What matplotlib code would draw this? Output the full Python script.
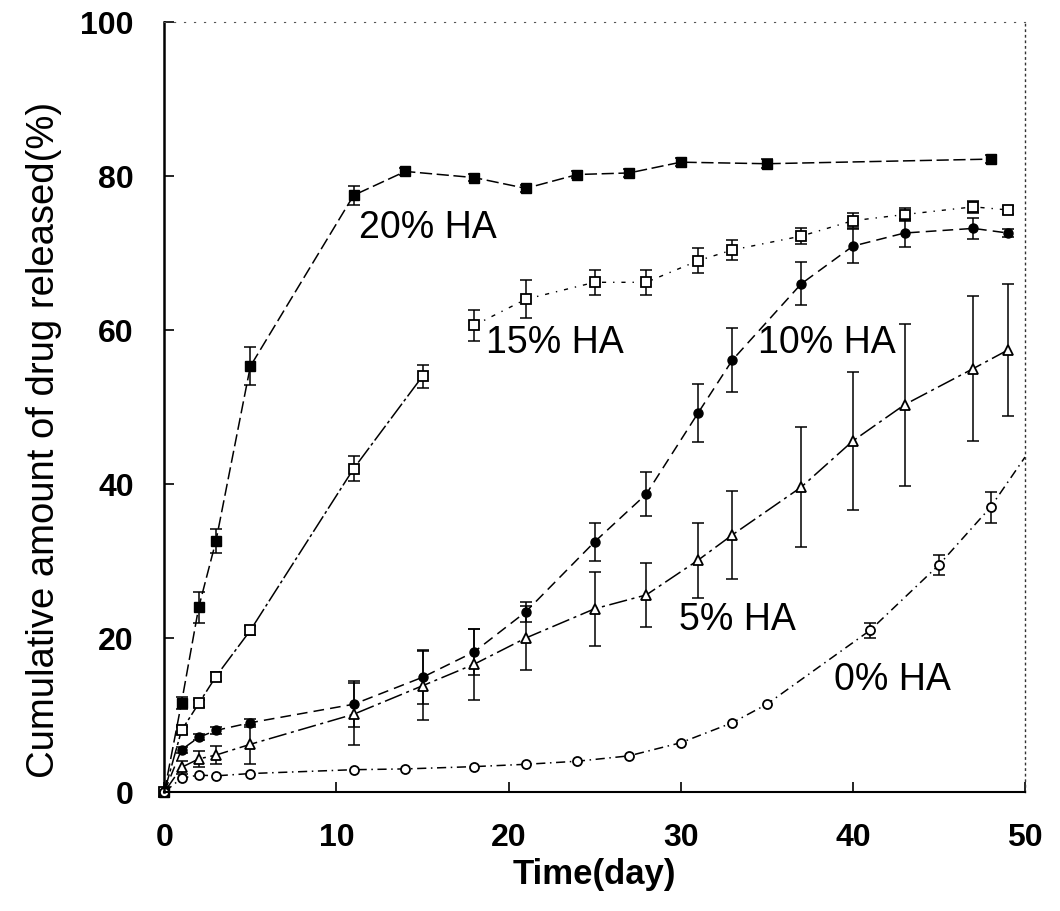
# импорт библиотек
import matplotlib
matplotlib.use("Agg")
import matplotlib.pyplot as plt

plt.rcParams['font.family'] = ['Liberation Sans', 'DejaVu Sans']

# данные: время (сутки) и накопленный выброс (%)
t20 = [0, 1, 2, 3, 5, 11, 14, 18, 21, 24, 27, 30, 35, 48]
r20 = [0, 11.6, 24, 32.6, 55.3, 77.5, 80.6, 79.8, 78.4, 80.2, 80.4, 81.8, 81.6, 82.2]
e20 = [0, 0.8, 2, 1.5, 2.5, 1.2, 0.5, 0.5, 0.5, 0.5, 0.5, 0.5, 0.6, 0.5]

t15 = [0, 1, 2, 3, 5, 11, 15, 18, 21, 25, 28, 31, 33, 37, 40, 43, 47, 49]
r15 = [0, 8, 11.5, 15, 21, 42, 54, 60.6, 64, 66.2, 66.2, 69, 70.4, 72.2, 74.2, 75, 76, 75.6]
e15 = [0, 0.5, 0.5, 0.6, 0.6, 1.6, 1.5, 2, 2.5, 1.6, 1.6, 1.6, 1.3, 1, 1, 0.8, 0.8, 0.5]

t10 = [0, 1, 2, 3, 5, 11, 15, 18, 21, 25, 28, 31, 33, 37, 40, 43, 47, 49]
r10 = [0, 5.5, 7.1, 8, 9, 11.4, 14.9, 18.2, 23.4, 32.5, 38.7, 49.2, 56.1, 66, 70.9, 72.6, 73.2, 72.6]
e10 = [0, 0.4, 0.4, 0.4, 0.5, 3, 3.5, 3, 1.3, 2.5, 2.8, 3.8, 4.2, 2.8, 2.2, 1.8, 1.4, 0.5]

t5 = [0, 1, 2, 3, 5, 11, 15, 18, 21, 25, 28, 31, 33, 37, 40, 43, 47, 49]
r5 = [0, 3.2, 4.3, 4.8, 6.2, 10.1, 13.8, 16.6, 20, 23.8, 25.6, 30.1, 33.4, 39.6, 45.6, 50.3, 55, 57.4]
e5 = [0, 0.8, 1, 1.2, 2.5, 4, 4.5, 4.6, 4.2, 4.8, 4.2, 4.9, 5.7, 7.8, 9, 10.5, 9.4, 8.6]

t0 = [0, 1, 2, 3, 5, 11, 14, 18, 21, 24, 27, 30, 33, 35, 41, 45, 48, 50]
r0 = [0, 1.8, 2.2, 2.1, 2.4, 2.9, 3.0, 3.3, 3.6, 4.0, 4.7, 6.4, 9.0, 11.4, 21, 29.5, 37, 43.5]
e0 = [0, 0, 0, 0, 0, 0, 0, 0, 0, 0, 0, 0, 0, 0, 1, 1.3, 2, 0]

labels = ["20% HA", "15% HA", "10% HA", "5% HA", "0% HA"]
label_pos = [(11.3, 73.2), (18.7, 58.3), (34.5, 58.3), (29.9, 22.3), (38.9, 14.5)]

fig = plt.figure(figsize=(10.6, 9.11), dpi=100)
ax = fig.add_axes([0.155, 0.1306, 0.812, 0.8452])


# усы погрешностей только там, где они есть
def err(t, r, e):
    tt = [a for a, c in zip(t, e) if c > 0]
    rr = [b for b, c in zip(r, e) if c > 0]
    ee = [c for c in e if c > 0]
    ax.errorbar(tt, rr, yerr=ee, fmt='none', ecolor='black', elinewidth=1.1,
                capsize=4, capthick=1.1, clip_on=False)


# 20% HA - закрашенные квадраты
err(t20, r20, e20)
ax.plot(t20, r20, color='black', lw=1.1, ls=(0, (8, 3)), marker='s', ms=7,
        mfc='black', mec='black', clip_on=False)

# 15% HA - пустые квадраты, разрыв у подписи
err(t15, r15, e15)
ax.plot(t15[:7], r15[:7], color='black', lw=1.1, ls=(0, (12, 2, 2, 2)), marker='s', ms=7,
        mfc='white', mec='black', mew=1.3, clip_on=False)
ax.plot(t15[7:], r15[7:], color='black', lw=1.0, ls=(0, (3, 5, 1, 5)), marker='s', ms=7,
        mfc='white', mec='black', mew=1.3, clip_on=False)

# 10% HA - закрашенные круги
err(t10, r10, e10)
ax.plot(t10, r10, color='black', lw=1.1, ls=(0, (7, 4)), marker='o', ms=6.5,
        mfc='black', mec='black', clip_on=False)

# 5% HA - пустые треугольники
err(t5, r5, e5)
ax.plot(t5, r5, color='black', lw=1.1, ls=(0, (12, 3, 2, 3)), marker='^', ms=7.5,
        mfc='white', mec='black', mew=1.3, clip_on=False)

# 0% HA - пустые круги
err(t0, r0, e0)
ax.plot(t0, r0, color='black', lw=1.1, ls=(0, (6, 3, 1, 3)), marker='o', ms=6.5,
        mfc='white', mec='black', mew=1.3, markevery=list(range(len(t0) - 1)), clip_on=False)

# подписи серий
for lab, (x, y) in zip(labels, label_pos):
    ax.text(x, y, lab, fontsize=27, va='center', ha='left')

ax.set_xlim(0, 50)
ax.set_ylim(0, 100)
ax.set_xticks([0, 10, 20, 30, 40, 50])
ax.set_yticks([0, 20, 40, 60, 80, 100])
ax.tick_params(direction='in', length=7, width=1.2, pad=22, labelsize=23)
for lbl in ax.get_xticklabels() + ax.get_yticklabels():
    lbl.set_fontweight('bold')

ax.set_xlabel("Time(day)", fontsize=25, fontweight='bold')
ax.xaxis.set_label_coords(0.5, -0.086)
ax.set_ylabel("Cumulative amount of drug released(%)", fontsize=27.5)
ax.yaxis.set_label_coords(-0.119, 0.457)

# рамка как на скане
ax.spines['left'].set_linewidth(1.8)
ax.spines['bottom'].set_linewidth(1.5)
ax.spines['top'].set_linestyle((0, (1, 8)))
ax.spines['top'].set_linewidth(0.8)
ax.spines['top'].set_color('#555555')
ax.spines['right'].set_linestyle((0, (1, 3)))
ax.spines['right'].set_linewidth(1.0)
ax.spines['right'].set_color('#333333')

plt.savefig("out.png", dpi=100)
